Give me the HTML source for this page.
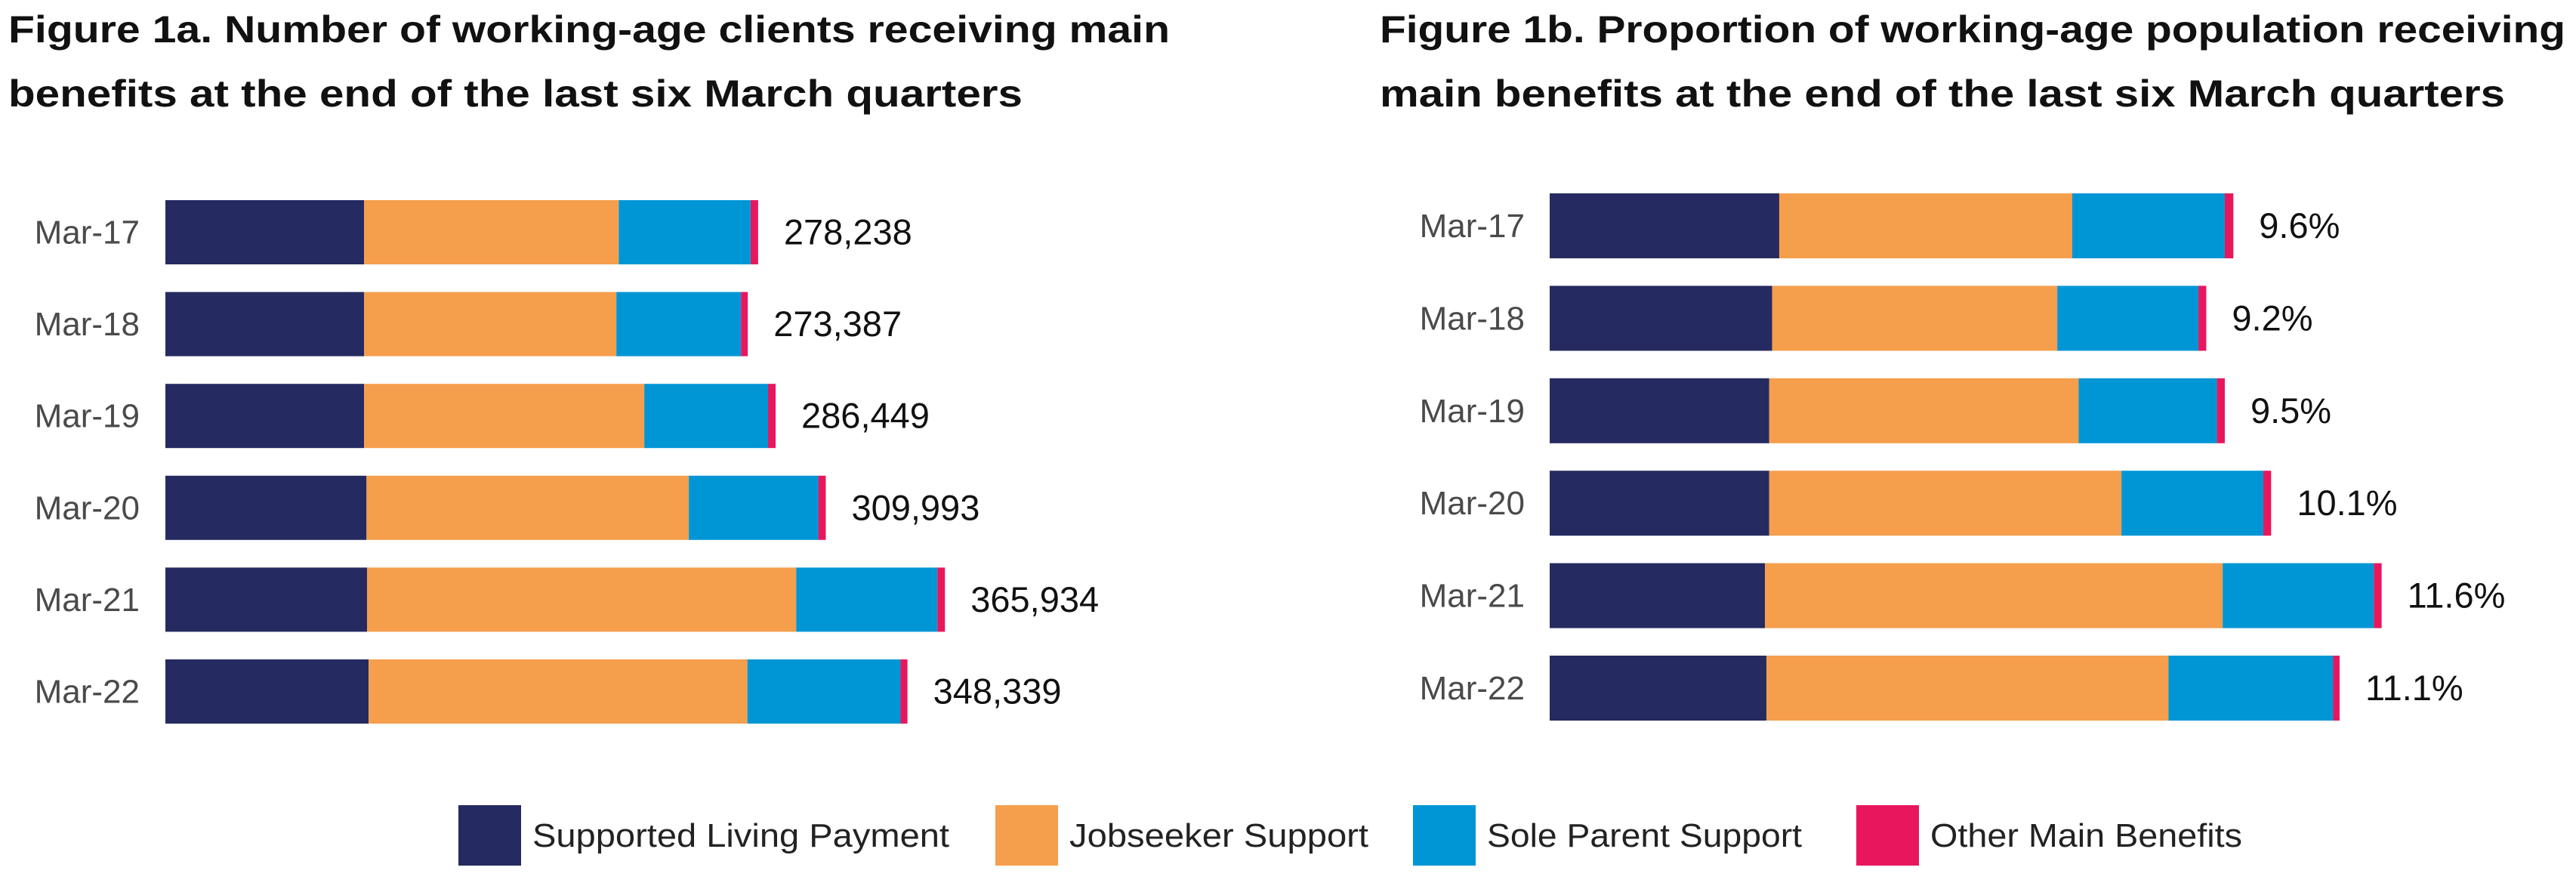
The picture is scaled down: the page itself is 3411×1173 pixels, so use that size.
<!DOCTYPE html>
<html><head><meta charset="utf-8"><style>
html,body{margin:0;padding:0;background:#fff;}
svg{display:block;font-family:"Liberation Sans",sans-serif;}
</style></head><body>
<svg id="chart" width="3411" height="1173" viewBox="0 0 3411 1173" xmlns="http://www.w3.org/2000/svg">
<g font-weight="bold" font-size="50" fill="#111">
<text x="11" y="56" textLength="1538" lengthAdjust="spacingAndGlyphs">Figure 1a. Number of working-age clients receiving main</text>
<text x="11" y="141" textLength="1343" lengthAdjust="spacingAndGlyphs">benefits at the end of the last six March quarters</text>
</g>
<g font-weight="bold" font-size="50" fill="#111">
<text x="1827" y="56" textLength="1570" lengthAdjust="spacingAndGlyphs">Figure 1b. Proportion of working-age population receiving</text>
<text x="1827" y="141" textLength="1490" lengthAdjust="spacingAndGlyphs">main benefits at the end of the last six March quarters</text>
</g>
<g id="left"></g>
<g id="right"></g>
<g id="legend"></g>
</svg>
<script>
const categories = ["Mar-17","Mar-18","Mar-19","Mar-20","Mar-21","Mar-22"];
const seriesNames = ["Supported Living Payment","Jobseeker Support","Sole Parent Support","Other Main Benefits"];
const countSLP = [93300,93300,93300,94400,94700,95400];
const countJS = [119500,118400,131500,151300,201400,177800];
const countSPS = [61900,58500,58100,60800,66300,71900];
const countOther = [3538,3187,3549,3493,3534,3239];
const countLabels = ["278,238","273,387","286,449","309,993","365,934","348,339"];
const pctSLP = [3.22,3.12,3.08,3.08,3.02,3.04];
const pctJS = [4.11,4.00,4.34,4.94,6.42,5.64];
const pctSPS = [2.14,1.98,1.94,1.99,2.12,2.31];
const pctOther = [0.12,0.11,0.11,0.11,0.11,0.09];
const pctLabels = ["9.6%","9.2%","9.5%","10.1%","11.6%","11.1%"];
const colors = ["#252a60","#f59e4c","#0096d6","#e8175d"];
const NS = "http://www.w3.org/2000/svg";
function mk(tag, attrs, parent){const e=document.createElementNS(NS,tag);for(const k in attrs)e.setAttribute(k,attrs[k]);parent.appendChild(e);return e;}

function drawPanel(g, x0, pxPerUnit, y0, step, h, catRight, series, labels){
  const xScale = v => v*pxPerUnit;
  const yScale = i => y0 + i*step;
  categories.forEach((c,i)=>{
    const y = yScale(i);
    const t = mk("text",{x:catRight,y:y+h/2+15,"text-anchor":"end","font-size":"44",fill:"#4a4a4a"},g);
    
    
    t.textContent=c;
    let x = x0;
    series.forEach((s,k)=>{
      const w = xScale(s[i]);
      const r = mk("rect",{x:x,y:y,width:w,height:h,fill:colors[k]},g);
      
      
      x += w;
    });
    const l = mk("text",{x:x+34,y:y+h/2+16,"font-size":"47",fill:"#111"},g);
    
    
    l.textContent=labels[i];
  });
}
drawPanel(document.getElementById("left"),219,1/354.5,265,121.6,85,185,[countSLP,countJS,countSPS,countOther],countLabels);
drawPanel(document.getElementById("right"),2052,94.4,256,122.4,86,2019,[pctSLP,pctJS,pctSPS,pctOther],pctLabels);

const lg = document.getElementById("legend");
const swX = [607,1318,1871,2458];
const lgLen = [552,396,417,413];
seriesNames.forEach((n,k)=>{
  const r = mk("rect",{x:swX[k],y:1066,width:83,height:80,fill:colors[k]},lg);
  
  
  const t = mk("text",{x:swX[k]+98,y:1121,"font-size":"44",fill:"#222",textLength:lgLen[k],lengthAdjust:"spacingAndGlyphs"},lg);
  
  
  t.textContent=n;
});
</script>
</body></html>
